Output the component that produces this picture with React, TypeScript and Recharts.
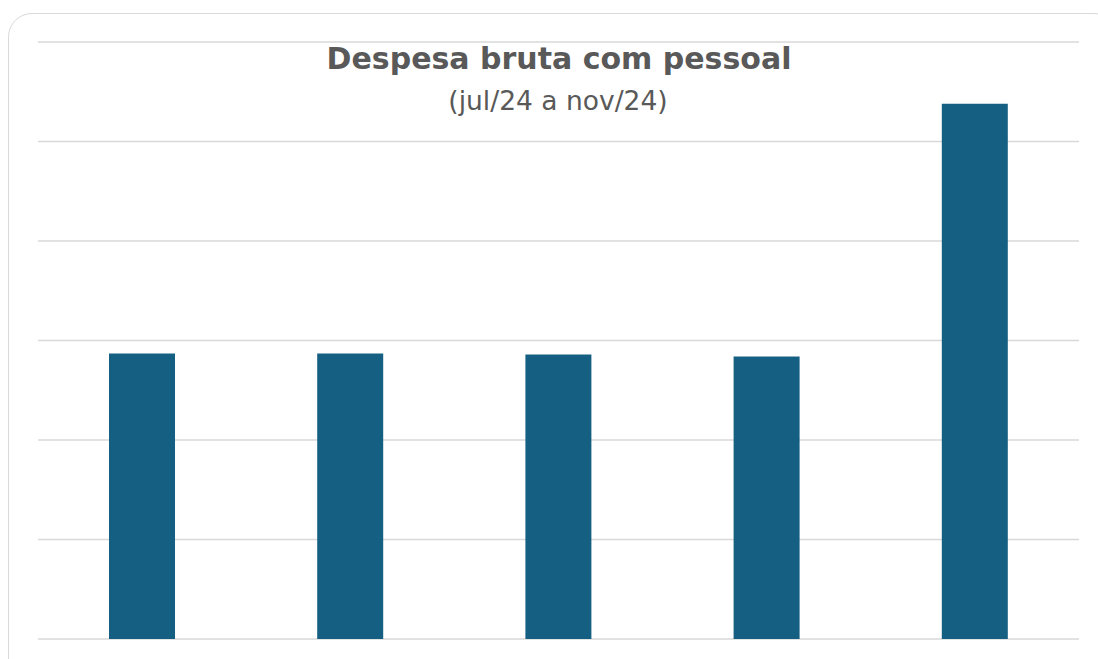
import React from "react";
import { BarChart, Bar, XAxis, YAxis, CartesianGrid } from "recharts";

const months = ["jul/24", "ago/24", "set/24", "out/24", "nov/24"];
const despesa = [28.7, 28.7, 28.6, 28.4, 53.8];
const yTicks = [0, 10, 20, 30, 40, 50, 60];
const titleText = "Despesa bruta com pessoal";
const subtitleText = "(jul/24 a nov/24)";

const data = months.map((m, i) => ({ mes: m, valor: despesa[i] }));

export default function App() {
  return (
    <div
      style={{
        position: "fixed",
        left: 0,
        top: 0,
        width: 1098,
        height: 659,
        overflow: "hidden",
        background: "#ffffff",
      }}
    >
      <div
        style={{
          position: "absolute",
          left: 8,
          top: 13,
          width: 1110,
          height: 670,
          border: "1.5px solid #d9d9d9",
          borderRadius: 24,
          boxSizing: "border-box",
        }}
      />
      <div style={{ position: "absolute", left: 0, top: 0 }}>
        <BarChart
          width={1098}
          height={659}
          data={data}
          margin={{ top: 42, right: 19, bottom: 20, left: 38 }}
        >
          <CartesianGrid
            vertical={false}
            stroke="#d9d9d9"
            strokeWidth={1.5}
          />
          <XAxis dataKey="mes" hide />
          <YAxis hide domain={[0, 60]} ticks={yTicks} />
          <Bar
            dataKey="valor"
            fill="#156082"
            barSize={66}
            isAnimationActive={false}
          />
        </BarChart>
      </div>
      <svg
        width={1098}
        height={659}
        style={{ position: "absolute", left: 0, top: 0, pointerEvents: "none" }}
      >
        <text
          x={559}
          y={69}
          textAnchor="middle"
          fontFamily="'DejaVu Sans', sans-serif"
          fontWeight={700}
          fontSize={30}
          fill="#595959"
        >
          {titleText}
        </text>
        <text
          x={558}
          y={109.5}
          textAnchor="middle"
          fontFamily="'DejaVu Sans', sans-serif"
          fontWeight={400}
          fontSize={26.5}
          fill="#595959"
        >
          {subtitleText}
        </text>
      </svg>
    </div>
  );
}
